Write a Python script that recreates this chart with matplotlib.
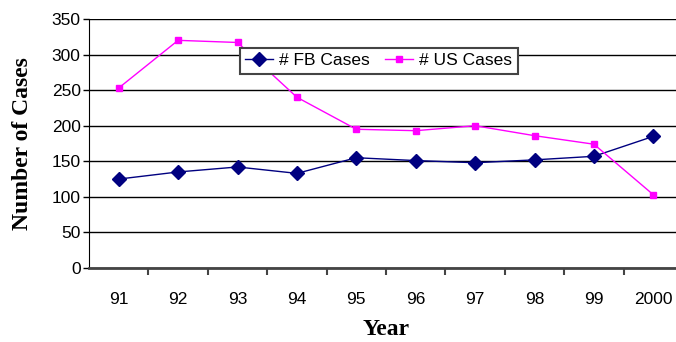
import matplotlib.pyplot as plt

anos = ['91', '92', '93', '94', '95', '96', '97', '98', '99', '2000']
casos_fb = [125, 135, 142, 133, 155, 151, 148, 152, 157, 185]
casos_us = [253, 320, 317, 240, 195, 193, 200, 186, 174, 103]

fig = plt.figure(figsize=(6.76, 3.42), dpi=100)
ax = fig.add_axes([89 / 676, 74 / 342, 594 / 676, 249 / 342])

x = list(range(len(anos)))
ax.plot(x, casos_fb, '-D', color='#000080', markersize=7, linewidth=1, label='# FB Cases')
ax.plot(x, casos_us, '-s', color='#FF00FF', markersize=4.5, linewidth=1, label='# US Cases')

ax.set_xlim(-0.5, 9.5)
ax.set_ylim(0, 350)
ax.set_yticks(range(0, 351, 50))
ax.yaxis.grid(True, color='black', linewidth=1)
ax.set_axisbelow(True)

# ticks entre as categorias, rotulos no centro
ax.set_xticks([i + 0.5 for i in x[:-1]])
ax.set_xticklabels([])
ax.set_xticks(x, minor=True)
ax.set_xticklabels(anos, minor=True)
ax.tick_params(axis='x', which='major', direction='out', length=5, width=1.5, color='#444444')
ax.tick_params(axis='x', which='minor', length=0, pad=17)
ax.tick_params(axis='y', direction='out', length=4, width=1, pad=2)

for s in ['top', 'right']:
    ax.spines[s].set_visible(False)
ax.spines['left'].set_color('black')
ax.spines['bottom'].set_color('#444444')
ax.spines['bottom'].set_linewidth(2)

for lbl in ax.get_yticklabels() + ax.get_xticklabels(minor=True):
    lbl.set_fontfamily('Liberation Sans')
    lbl.set_fontsize(12.5)

ax.set_xlabel('Year', fontfamily='Liberation Serif', fontweight='bold', fontsize=17, labelpad=9)
ax.set_ylabel('Number of Cases', fontfamily='Liberation Serif', fontweight='bold', fontsize=17, labelpad=13)

leg = ax.legend(loc='upper left', bbox_to_anchor=(151 / 594, 1 - 29 / 249), ncol=2,
                frameon=True, fancybox=False, prop={'family': 'Liberation Sans', 'size': 12.5},
                borderpad=0.3, handlelength=1.6, columnspacing=0.9, handletextpad=0.35,
                borderaxespad=0)
leg.get_frame().set_edgecolor('#444444')
leg.get_frame().set_linewidth(1.5)
leg.get_frame().set_alpha(1)

fig.savefig('out.png', dpi=100)
